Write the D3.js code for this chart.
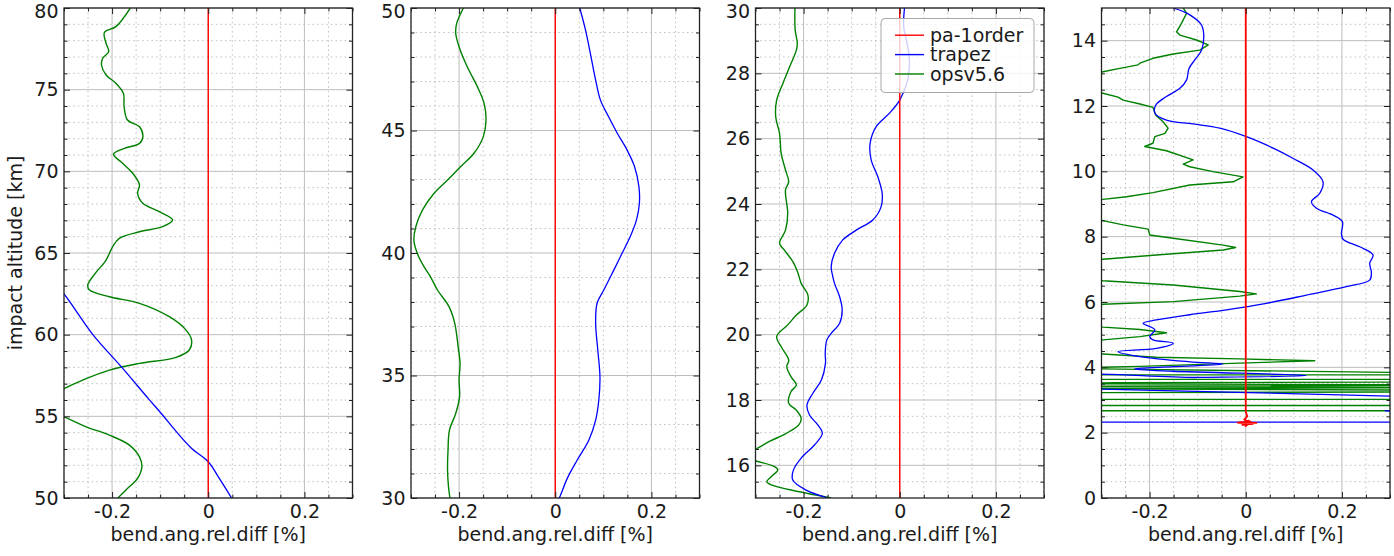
<!DOCTYPE html>
<html>
<head>
<meta charset="utf-8">
<script src="https://cdn.jsdelivr.net/npm/d3@7"></script>
<style>
  html, body { margin: 0; padding: 0; background: #fff; }
  svg { display: block; font-family: "DejaVu Sans", sans-serif; }
</style>
</head>
<body>
<svg id="chart" width="1394" height="556"></svg>
<script>
// ---------------- data ----------------
const seriesNames = ["pa-1order", "trapez", "opsv5.6"];
const seriesColors = ["#ff0000", "#0000ff", "#008000"];

const xTicks = [-0.2, 0, 0.2];
const xDomain = [-0.3, 0.3];
const yDomains = [[50, 80], [30, 50], [15, 30], [0, 15]];
const yTicksP1 = [50, 55, 60, 65, 70, 75, 80];
const yTicksP2 = [30, 35, 40, 45, 50];
const yTicksP3 = [16, 18, 20, 22, 24, 26, 28, 30];
const yTicksP4 = [0, 2, 4, 6, 8, 10, 12, 14];
const yMinorSteps = [1, 1, 0.5, 0.5];
const xMinorStep = 0.05;

// [relative difference %, impact altitude km]
const redP1 = [[0, 50], [0, 80]];
const redP2 = [[0, 30], [0, 50]];
const redP3 = [[0, 15], [0, 30]];
const redP4 = [[0, 15], [0, 2.64], [0.003, 2.5], [-0.003, 2.4], [0.004, 2.34], [-0.017, 2.31], [0.022, 2.3], [-0.013, 2.29], [0.01, 2.34], [0, 2.2], [0.006, 2.37], [-0.007, 2.24], [0.015, 2.27], [-0.01, 2.33]];

const blueP1 = [[-0.345, 64], [-0.3, 62.49], [-0.24, 60], [-0.181, 58.04], [-0.125, 56.1], [-0.095, 55.08], [-0.066, 54.05], [-0.035, 53.05], [0, 52.22], [0.023, 51.2], [0.0485, 50]];
const greenP1 = [[-0.162, 80], [-0.192, 78.86], [-0.216, 78.5], [-0.2125, 77.84], [-0.207, 77.33], [-0.2195, 76.92], [-0.222, 76.51], [-0.2125, 75.9], [-0.192, 75.39], [-0.1765, 74.78], [-0.175, 73.96], [-0.168, 73.14], [-0.143, 72.73], [-0.136, 72.12], [-0.143, 71.71], [-0.1745, 71.41], [-0.197, 71.06], [-0.178, 70.49], [-0.157, 69.88], [-0.143, 69.16], [-0.147, 68.65], [-0.136, 68.04], [-0.102, 67.53], [-0.074, 67.02], [-0.095, 66.61], [-0.143, 66.3], [-0.185, 65.9], [-0.199, 65.38], [-0.2125, 64.57], [-0.235, 63.75], [-0.2506, 63.04], [-0.247, 62.73], [-0.2056, 62.32], [-0.143, 61.92], [-0.081, 61.1], [-0.046, 60.28], [-0.0347, 59.67], [-0.0395, 59.06], [-0.067, 58.61], [-0.143, 58.24], [-0.2056, 57.83], [-0.261, 57.22], [-0.299, 56.71], [-0.33, 56.2], [-0.345, 55.8], [-0.33, 55.3], [-0.3, 54.97], [-0.254, 54.36], [-0.2056, 53.85], [-0.164, 53.24], [-0.143, 52.52], [-0.138, 51.91], [-0.147, 51.2], [-0.1676, 50.59], [-0.188, 50]];

const blueP2 = [[0.051, 50], [0.063, 49.1], [0.073, 48.15], [0.084, 47.06], [0.094, 46.24], [0.111, 45.56], [0.129, 44.89], [0.1495, 44.2], [0.165, 43.52], [0.174, 42.71], [0.175, 42.03], [0.169, 41.35], [0.156, 40.67], [0.139, 39.99], [0.122, 39.31], [0.101, 38.49], [0.087, 37.95], [0.084, 37.13], [0.0885, 36.04], [0.093, 34.95], [0.0906, 34.0], [0.084, 33.18], [0.07, 32.37], [0.0457, 31.55], [0.025, 30.8], [0.0096, 30.05], [0.008, 30]];
const greenP2 = [[-0.191, 50], [-0.205, 49.37], [-0.207, 48.97], [-0.2, 48.42], [-0.183, 47.6], [-0.162, 46.79], [-0.148, 46.11], [-0.144, 45.43], [-0.1496, 44.75], [-0.169, 44.07], [-0.197, 43.52], [-0.224, 42.98], [-0.252, 42.44], [-0.276, 41.76], [-0.29, 41.07], [-0.294, 40.53], [-0.287, 39.99], [-0.273, 39.44], [-0.26, 39.05], [-0.245, 38.49], [-0.221, 37.81], [-0.209, 37.13], [-0.202, 36.18], [-0.198, 35.5], [-0.2, 34.82], [-0.199, 34.13], [-0.207, 33.45], [-0.22, 32.77], [-0.223, 31.96], [-0.224, 31.14], [-0.222, 30.46], [-0.219, 30]];

const blueP3 = [[0.0098, 30], [0.0083, 29.43], [0.0166, 28.82], [0.02, 28.41], [0.0166, 27.8], [0, 27.18], [-0.0214, 26.78], [-0.049, 26.37], [-0.0616, 25.86], [-0.0595, 25.35], [-0.0457, 24.84], [-0.0366, 24.33], [-0.0387, 23.92], [-0.056, 23.51], [-0.0906, 23.2], [-0.1185, 22.9], [-0.1357, 22.49], [-0.1426, 22.08], [-0.1395, 21.8], [-0.1357, 21.57], [-0.125, 21.16], [-0.1197, 20.76], [-0.125, 20.35], [-0.1426, 20.04], [-0.1517, 19.84], [-0.155, 19.43], [-0.1545, 19.12], [-0.163, 18.61], [-0.181, 18.2], [-0.193, 17.84], [-0.1877, 17.54], [-0.1705, 17.24], [-0.161, 16.98], [-0.177, 16.63], [-0.205, 16.22], [-0.221, 15.86], [-0.2225, 15.55], [-0.1946, 15.24], [-0.1497, 15]];
const greenP3 = [[-0.218, 30], [-0.2175, 29.33], [-0.213, 28.92], [-0.215, 28.71], [-0.229, 28.2], [-0.243, 27.69], [-0.256, 27.18], [-0.258, 26.67], [-0.25, 26.16], [-0.2466, 25.55], [-0.2376, 25.04], [-0.231, 24.68], [-0.2376, 24.43], [-0.233, 23.71], [-0.2376, 23.2], [-0.25, 22.8], [-0.24, 22.59], [-0.222, 22.23], [-0.212, 21.9], [-0.205, 21.57], [-0.191, 21.21], [-0.193, 20.91], [-0.215, 20.6], [-0.233, 20.3], [-0.256, 19.94], [-0.2466, 19.63], [-0.2308, 19.22], [-0.235, 19.02], [-0.226, 18.71], [-0.215, 18.46], [-0.226, 18.26], [-0.231, 17.9], [-0.215, 17.69], [-0.205, 17.44], [-0.21, 17.24], [-0.236, 16.98], [-0.271, 16.73], [-0.3, 16.49], [-0.33, 16.3], [-0.3, 16.14], [-0.2605, 15.96], [-0.2536, 15.86], [-0.267, 15.66], [-0.2765, 15.5], [-0.267, 15.4], [-0.2085, 15.19], [-0.1426, 15]];

const blueP4 = [[-0.151, 15], [-0.1164, 14.79], [-0.092, 14.48], [-0.0873, 14.12], [-0.092, 13.71], [-0.106, 13.41], [-0.118, 13.15], [-0.123, 12.8], [-0.137, 12.54], [-0.165, 12.29], [-0.187, 12.03], [-0.189, 11.78], [-0.165, 11.57], [-0.1095, 11.45], [-0.054, 11.32], [0.0014, 11.06], [0.057, 10.71], [0.098, 10.4], [0.14, 10.04], [0.1607, 9.68], [0.154, 9.33], [0.1366, 9.07], [0.147, 8.87], [0.1815, 8.66], [0.201, 8.46], [0.199, 8.1], [0.2024, 7.92], [0.237, 7.69], [0.2647, 7.44], [0.2578, 7.19], [0.2613, 6.9], [0.2578, 6.67], [0.209, 6.47], [0.126, 6.21], [0.043, 5.96], [-0.04, 5.76], [-0.1164, 5.61], [-0.1857, 5.45], [-0.2135, 5.35], [-0.189, 5.15], [-0.1996, 4.94], [-0.193, 4.84], [-0.151, 4.74], [-0.1857, 4.58], [-0.2655, 4.48], [-0.22, 4.33], [-0.1164, 4.17], [-0.047, 4.1], [-0.151, 4.02], [-0.232, 3.95], [-0.151, 3.88], [0.126, 3.75], [-0.1, 3.69], [-0.4, 3.66], [-0.4, 3.36], [-0.3, 3.33], [0.3, 3.12], [0.45, 3.06], [0.45, 2.7], [0.29, 2.67], [0.45, 2.63], [0.5, 2.45], [0.5, 2.32], [0.4, 2.32], [-0.4, 2.32], [-0.5, 2.32]];
const greenP4 = [[-0.13, 15], [-0.123, 14.84], [-0.1337, 14.53], [-0.144, 14.27], [-0.137, 14.17], [-0.1025, 14.02], [-0.078, 13.87], [-0.0956, 13.71], [-0.151, 13.59], [-0.193, 13.46], [-0.22, 13.31], [-0.224, 13.26], [-0.262, 13.15], [-0.297, 13.05], [-0.34, 12.9], [-0.34, 12.5], [-0.297, 12.39], [-0.2655, 12.27], [-0.255, 12.18], [-0.22, 12.06], [-0.193, 11.96], [-0.187, 11.72], [-0.172, 11.52], [-0.1615, 11.32], [-0.168, 11.16], [-0.189, 11.06], [-0.193, 10.86], [-0.21, 10.76], [-0.165, 10.63], [-0.1095, 10.35], [-0.13, 10.22], [-0.1164, 10.14], [-0.068, 9.99], [-0.0056, 9.83], [-0.026, 9.68], [-0.1164, 9.58], [-0.193, 9.35], [-0.248, 9.22], [-0.297, 9.14], [-0.34, 9.0], [-0.34, 8.6], [-0.297, 8.49], [-0.255, 8.36], [-0.203, 8.23], [-0.1996, 8.05], [-0.151, 7.95], [-0.047, 7.74], [-0.0208, 7.67], [-0.047, 7.59], [-0.1857, 7.44], [-0.297, 7.31], [-0.34, 7.2], [-0.34, 6.75], [-0.297, 6.65], [-0.151, 6.52], [-0.0125, 6.32], [0.022, 6.25], [-0.0125, 6.18], [-0.151, 6.01], [-0.297, 5.93], [-0.34, 5.8], [-0.34, 5.3], [-0.297, 5.23], [-0.22, 5.16], [-0.165, 5.06], [-0.22, 4.94], [-0.297, 4.84], [-0.34, 4.7], [-0.34, 4.45], [-0.297, 4.41], [-0.186, 4.31], [-0.0125, 4.26], [0.1435, 4.2], [-0.0125, 4.13], [-0.22, 4.03], [-0.4, 3.97], [0.45, 3.82], [0.45, 3.77], [-0.45, 3.77], [-0.45, 3.63], [0.45, 3.63], [0.45, 3.55], [-0.27, 3.53], [-0.45, 3.5], [0.28, 3.47], [0.45, 3.45], [-0.45, 3.42], [0.45, 3.38], [-0.45, 3.35], [0.45, 3.3], [0.45, 3.25], [-0.45, 3.22], [-0.45, 3.02], [0.45, 3.02], [0.45, 2.83], [-0.45, 2.83], [-0.45, 2.67], [0.45, 2.67]];

const panelData = [
  { red: redP1, blue: blueP1, green: greenP1, yTicks: yTicksP1 },
  { red: redP2, blue: blueP2, green: greenP2, yTicks: yTicksP2 },
  { red: redP3, blue: blueP3, green: greenP3, yTicks: yTicksP3 },
  { red: redP4, blue: blueP4, green: greenP4, yTicks: yTicksP4 }
];

// ---------------- layout ----------------
const panelLeft = [64, 411, 755.5, 1101.5];
const plotW = 288.5;
const plotTop = 8, plotBottom = 498;
const FONT = 19;
const textColor = "#1a1a1a";

const svg = d3.select("#chart");

function rangeStep(a, b, s) {
  const out = [];
  const n = Math.round((b - a) / s);
  for (let i = 0; i <= n; i++) out.push(+(a + i * s).toFixed(6));
  return out;
}

const fmtX = d => d === 0 ? "0" : String(d);

panelData.forEach((pd, i) => {
  const left = panelLeft[i];
  const x = d3.scaleLinear().domain(xDomain).range([left, left + plotW]);
  const y = d3.scaleLinear().domain(yDomains[i]).range([plotBottom, plotTop]);
  const g = svg.append("g");

  const xMinor = rangeStep(xDomain[0], xDomain[1], xMinorStep).filter(v => !xTicks.some(t => Math.abs(t - v) < 1e-9));
  const yMinor = rangeStep(yDomains[i][0], yDomains[i][1], yMinorSteps[i]).filter(v => !pd.yTicks.includes(v) && v > yDomains[i][0] && v < yDomains[i][1]);

  // minor grid (dotted)
  g.append("g").selectAll("line").data(xMinor).join("line")
    .attr("x1", d => x(d)).attr("x2", d => x(d))
    .attr("y1", plotTop).attr("y2", plotBottom)
    .attr("stroke", "#b4b4b4").attr("stroke-width", 0.8).attr("stroke-dasharray", "1.6,3");
  g.append("g").selectAll("line").data(yMinor).join("line")
    .attr("y1", d => y(d)).attr("y2", d => y(d))
    .attr("x1", left).attr("x2", left + plotW)
    .attr("stroke", "#b4b4b4").attr("stroke-width", 0.8).attr("stroke-dasharray", "1.6,3");
  // major grid (solid)
  g.append("g").selectAll("line").data(xTicks).join("line")
    .attr("x1", d => x(d)).attr("x2", d => x(d))
    .attr("y1", plotTop).attr("y2", plotBottom)
    .attr("stroke", "#bdbdbd").attr("stroke-width", 1);
  g.append("g").selectAll("line").data(pd.yTicks).join("line")
    .attr("y1", d => y(d)).attr("y2", d => y(d))
    .attr("x1", left).attr("x2", left + plotW)
    .attr("stroke", "#bdbdbd").attr("stroke-width", 1);

  // data lines
  const clipId = "clip" + i;
  svg.append("clipPath").attr("id", clipId).append("rect")
    .attr("x", left).attr("y", plotTop).attr("width", plotW).attr("height", plotBottom - plotTop);
  const lines = g.append("g").attr("clip-path", `url(#${clipId})`);
  const smooth = d3.line().x(d => x(d[0])).y(d => y(d[1])).curve(d3.curveCatmullRom.alpha(0.5));
  const straight = d3.line().x(d => x(d[0])).y(d => y(d[1]));
  lines.append("path").attr("d", (i === 3 ? straight : smooth)(pd.green))
    .attr("fill", "none").attr("stroke", seriesColors[2]).attr("stroke-width", 1.4).attr("stroke-linejoin", "round");
  lines.append("path").attr("d", smooth(pd.blue))
    .attr("fill", "none").attr("stroke", seriesColors[1]).attr("stroke-width", 1.3).attr("stroke-linejoin", "round");
  lines.append("path").attr("d", straight(pd.red))
    .attr("fill", "none").attr("stroke", seriesColors[0]).attr("stroke-width", i === 3 ? 1.8 : 1.4).attr("stroke-linejoin", "round");

  // axes with inward ticks
  const styleAxis = sel => {
    sel.select(".domain").remove();
    sel.selectAll(".tick line").attr("stroke", "#222").attr("stroke-width", 1);
    sel.selectAll("text").attr("font-size", FONT).attr("fill", textColor)
      .attr("font-family", "DejaVu Sans, sans-serif");
  };
  g.append("g").attr("transform", `translate(0,${plotBottom})`)
    .call(d3.axisBottom(x).tickValues(xMinor).tickSize(-3.5).tickFormat("")).call(styleAxis);
  g.append("g").attr("transform", `translate(0,${plotBottom})`)
    .call(d3.axisBottom(x).tickValues(xTicks).tickSize(-6).tickPadding(6.8).tickFormat(fmtX)).call(styleAxis);
  g.append("g").attr("transform", `translate(0,${plotTop})`)
    .call(d3.axisTop(x).tickValues(xMinor).tickSize(-3.5).tickFormat("")).call(styleAxis);
  g.append("g").attr("transform", `translate(0,${plotTop})`)
    .call(d3.axisTop(x).tickValues(xTicks).tickSize(-6).tickFormat("")).call(styleAxis);
  g.append("g").attr("transform", `translate(${left},0)`)
    .call(d3.axisLeft(y).tickValues(yMinor).tickSize(-3.5).tickFormat("")).call(styleAxis);
  const yAx = g.append("g").attr("transform", `translate(${left},0)`)
    .call(d3.axisLeft(y).tickValues(pd.yTicks).tickSize(-6).tickPadding(5.5).tickFormat(d3.format("d"))).call(styleAxis);
  // keep the top-most label inside the picture
  yAx.selectAll(".tick").filter(d => y(d) < plotTop + 4).select("text").attr("dy", "0.5em");
  g.append("g").attr("transform", `translate(${left + plotW},0)`)
    .call(d3.axisRight(y).tickValues(yMinor).tickSize(-3.5).tickFormat("")).call(styleAxis);
  g.append("g").attr("transform", `translate(${left + plotW},0)`)
    .call(d3.axisRight(y).tickValues(pd.yTicks).tickSize(-6).tickFormat("")).call(styleAxis);

  // frame
  g.append("rect").attr("x", left).attr("y", plotTop).attr("width", plotW).attr("height", plotBottom - plotTop)
    .attr("fill", "none").attr("stroke", "#222").attr("stroke-width", 1.3);

  // x label
  g.append("text").attr("x", left + plotW / 2).attr("y", 541)
    .attr("text-anchor", "middle").attr("font-size", FONT).attr("fill", textColor)
    .text("bend.ang.rel.diff [%]");

  // legend in third panel
  if (i === 2) {
    const lg = svg.append("g");
    lg.append("rect").attr("x", 881).attr("y", 18.5).attr("width", 153).attr("height", 74)
      .attr("rx", 4).attr("fill", "#ffffff").attr("fill-opacity", 0.8)
      .attr("stroke", "#a8a8a8").attr("stroke-width", 1);
    const rowY = [35.2, 54.6, 74];
    seriesNames.forEach((name, k) => {
      lg.append("line").attr("x1", 895).attr("x2", 924).attr("y1", rowY[k]).attr("y2", rowY[k])
        .attr("stroke", seriesColors[k]).attr("stroke-width", 1.4);
      lg.append("text").attr("x", 930).attr("y", rowY[k] + 6.5)
        .attr("font-size", FONT).attr("fill", textColor).text(name);
    });
  }
});

// y label
svg.append("text").attr("transform", "translate(22,253) rotate(-90)")
  .attr("text-anchor", "middle").attr("font-size", FONT).attr("fill", textColor)
  .text("impact altitude [km]");
</script>
</body>
</html>
